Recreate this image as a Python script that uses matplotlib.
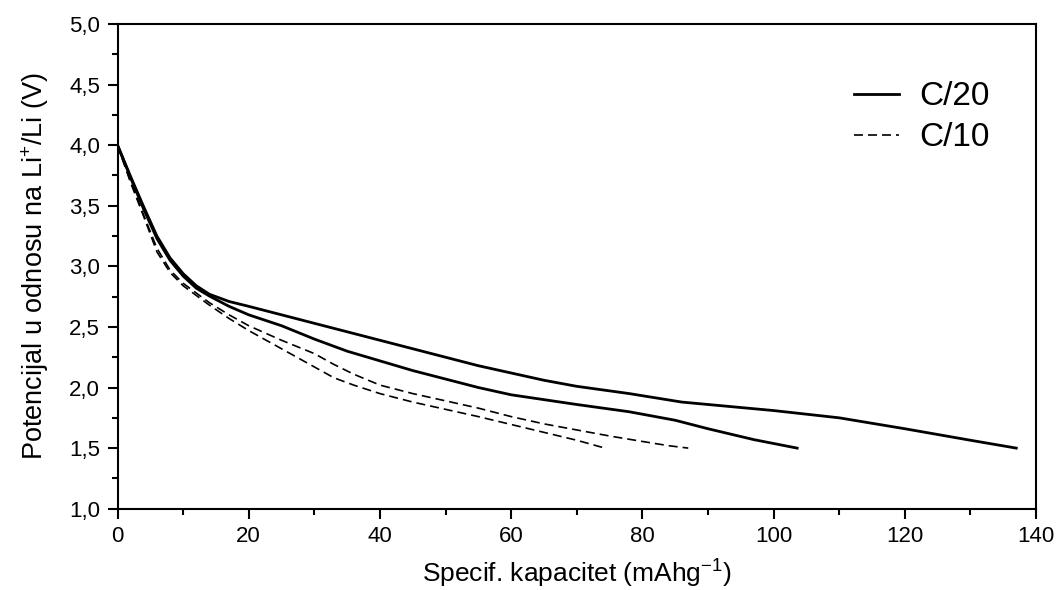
import matplotlib
matplotlib.use("Agg")
import matplotlib.pyplot as plt
from matplotlib.ticker import MultipleLocator, FixedLocator, FixedFormatter

plt.rcParams['font.family'] = ['Liberation Sans', 'DejaVu Sans']
plt.rcParams['mathtext.fontset'] = 'custom'
plt.rcParams['mathtext.rm'] = 'Liberation Sans'
plt.rcParams['mathtext.it'] = 'Liberation Sans:italic'
plt.rcParams['mathtext.bf'] = 'Liberation Sans:bold'

# C/20 — longer run
c20a_x = [0, 2, 4, 6, 8, 10, 12, 14, 17, 20, 25, 30, 35, 40, 45, 50, 55, 60, 65, 70, 78, 86, 90, 100, 110, 120, 130, 137]
c20a_y = [4.0, 3.74, 3.49, 3.25, 3.07, 2.94, 2.84, 2.77, 2.71, 2.67, 2.60, 2.53, 2.46, 2.39, 2.32, 2.25, 2.18, 2.12,
          2.06, 2.01, 1.95, 1.88, 1.86, 1.81, 1.75, 1.66, 1.565, 1.50]
# C/20 — shorter run
c20b_x = [0, 2, 4, 6, 8, 10, 12, 14, 17, 20, 25, 30, 35, 40, 45, 50, 55, 60, 65, 70, 78, 85, 90, 97, 103.6]
c20b_y = [4.0, 3.73, 3.47, 3.23, 3.05, 2.92, 2.82, 2.755, 2.67, 2.60, 2.51, 2.40, 2.30, 2.22, 2.14, 2.07, 2.00, 1.94,
          1.90, 1.86, 1.80, 1.73, 1.66, 1.57, 1.50]
# C/10 — longer run
c10a_x = [0, 2, 4, 6, 8, 10, 12, 14, 17, 20, 25, 30, 33, 36, 40, 45, 50, 55, 60, 65, 70, 75, 80, 84, 87]
c10a_y = [4.0, 3.70, 3.42, 3.15, 2.97, 2.86, 2.78, 2.70, 2.60, 2.51, 2.39, 2.28, 2.19, 2.11, 2.02, 1.95, 1.89, 1.83,
          1.76, 1.70, 1.65, 1.60, 1.555, 1.52, 1.50]
# C/10 — shorter run
c10b_x = [0, 2, 4, 6, 8, 10, 12, 14, 17, 20, 25, 30, 33, 36, 40, 45, 50, 55, 60, 65, 70, 74.3]
c10b_y = [4.0, 3.69, 3.41, 3.12, 2.95, 2.84, 2.76, 2.68, 2.57, 2.47, 2.32, 2.17, 2.08, 2.02, 1.95, 1.88, 1.82, 1.76,
          1.695, 1.63, 1.565, 1.50]

x_ticks = [0, 20, 40, 60, 80, 100, 120, 140]
x_ticklabels = ["0", "20", "40", "60", "80", "100", "120", "140"]
y_ticks = [1.0, 1.5, 2.0, 2.5, 3.0, 3.5, 4.0, 4.5, 5.0]
y_ticklabels = ["1,0", "1,5", "2,0", "2,5", "3,0", "3,5", "4,0", "4,5", "5,0"]

fig = plt.figure(figsize=(10.56, 5.90), dpi=100)
ax = fig.add_axes([0.1113, 0.1378, 0.8697, 0.8215])

ax.plot(c20a_x, c20a_y, color='black', lw=2.0, label='C/20')
ax.plot(c20b_x, c20b_y, color='black', lw=2.0)
ax.plot(c10a_x, c10a_y, color='black', lw=1.2, dashes=(5.4, 3.0), label='C/10')
ax.plot(c10b_x, c10b_y, color='black', lw=1.2, dashes=(5.4, 3.0))

ax.set_xlim(0, 140)
ax.set_ylim(1.0, 5.0)
ax.xaxis.set_major_locator(FixedLocator(x_ticks))
ax.xaxis.set_major_formatter(FixedFormatter(x_ticklabels))
ax.yaxis.set_major_locator(FixedLocator(y_ticks))
ax.yaxis.set_major_formatter(FixedFormatter(y_ticklabels))
ax.xaxis.set_minor_locator(MultipleLocator(10))
ax.yaxis.set_minor_locator(MultipleLocator(0.25))

for s in ax.spines.values():
    s.set_linewidth(1.5)
ax.tick_params(which='major', direction='out', length=7.5, width=1.5, labelsize=16, colors='black', pad=5)
ax.tick_params(which='minor', direction='out', length=4, width=1.5)
ax.tick_params(top=False, right=False, which='both')

ax.set_xlabel(r'Specif. kapacitet (mAhg$^{\mathregular{-1}}$)', fontsize=19, labelpad=8)
ax.set_ylabel(r'Potencijal u odnosu na Li$^{\mathregular{+}}$/Li (V)', fontsize=19.5, labelpad=13)

leg = ax.legend(loc='upper right', bbox_to_anchor=(0.9495, 0.882), frameon=False, fontsize=24,
                handlelength=1.35, handletextpad=0.6, labelspacing=0.30, borderpad=0, borderaxespad=0)

fig.savefig('out.png', dpi=100)
